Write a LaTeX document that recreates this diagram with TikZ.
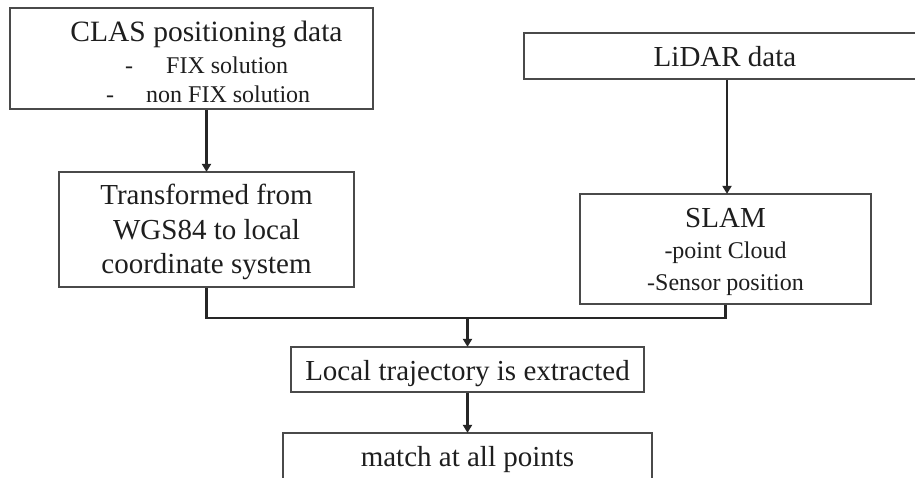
\documentclass[tikz,border=0pt]{standalone}
\usepackage{fontspec}
\setmainfont{Liberation Serif}
\usetikzlibrary{arrows.meta}

\definecolor{boxline}{HTML}{4A4A4A}
\definecolor{connline}{HTML}{262626}
\definecolor{ink}{HTML}{1E1E1E}

\tikzset{
  box/.style={draw=boxline, line width=1.3pt, fill=none, inner sep=0pt},
  big/.style={text=ink, inner sep=0pt, anchor=base, font=\fontsize{29}{34}\selectfont},
  small/.style={text=ink, inner sep=0pt, anchor=base, font=\fontsize{24}{28}\selectfont},
  conn/.style={draw=connline, line width=2.4pt},
  arr/.style={conn, -{Triangle[length=8pt,width=9pt]}, shorten >=-0.5pt},
}

\begin{document}
\begin{tikzpicture}[x=1pt, y=-1pt]
\useasboundingbox (0,0) rectangle (915,477);
\clip (0,0) rectangle (915,477);
\fill[white] (0,0) rectangle (915,477);

% boxes
\node[box, minimum width=363pt, minimum height=101pt] (clas)  at (191.5,58.5) {};
\node[box, minimum width=295pt, minimum height=115pt] (trans) at (206.5,229.5) {};
\node[box, minimum width=406pt, minimum height=46pt]  (lidar) at (727,56) {};
\node[box, minimum width=291pt, minimum height=110pt] (slam)  at (725.5,249) {};
\node[box, minimum width=353pt, minimum height=45pt]  (local) at (467.5,369.5) {};
\node[box, minimum width=369pt, minimum height=80pt]  (match) at (467.5,473) {};

% texts
\node[big, font=\fontsize{29.5}{34}\selectfont] (clasA) at (206.5,41) {CLAS positioning data};
\node[small, anchor=base west] (clasB) at (125,73) {-\hspace{33pt}FIX solution};
\node[small, anchor=base west] (clasC) at (106,102) {-\hspace{32pt}non FIX solution};

\node[big] (transA) at (206.5,204) {Transformed from};
\node[big] (transB) at (206.5,239) {WGS84 to local};
\node[big] (transC) at (206.5,273) {coordinate system};

\node[big] (lidarA) at (725,66) {LiDAR data};

\node[big]   (slamA) at (725.5,227) {SLAM};
\node[small] (slamB) at (725.5,258) {-point Cloud};
\node[small] (slamC) at (725.5,290) {-Sensor position};

\node[big] (localA) at (467.5,380) {Local trajectory is extracted};
\node[big] (matchA) at (467.5,466) {match at all points};

% connectors
\coordinate (join) at (467.5,318);
\draw[arr] (clas.south -| trans.north) -- (trans.north);
\draw[arr] (lidar.south) -- (lidar.south |- slam.north);
\draw[conn] (trans.south) -- (trans.south |- join) -- (slam.south |- join) -- (slam.south);
\draw[arr] (join) -- (local.north);
\draw[arr] (local.south) -- (match.north);
\end{tikzpicture}
\end{document}
